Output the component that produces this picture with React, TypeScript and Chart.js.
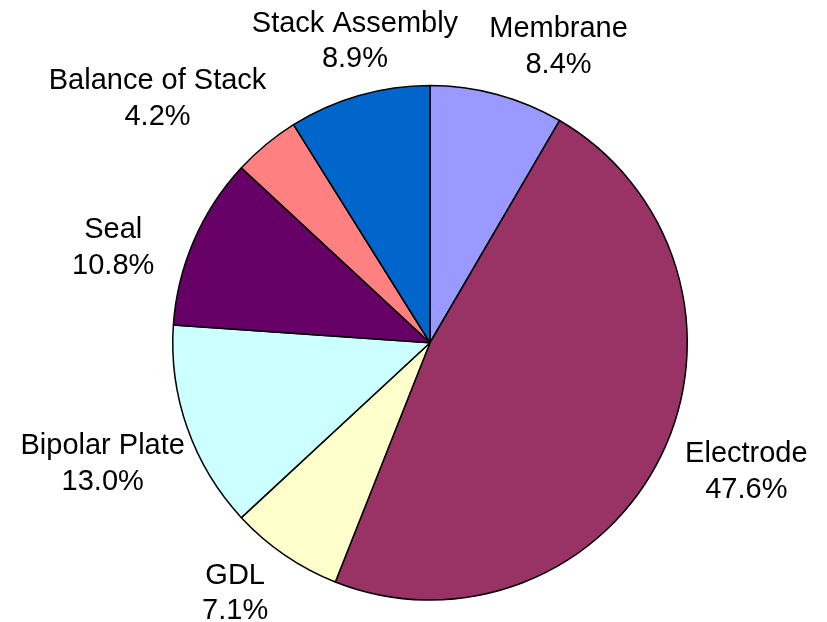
import React, { useEffect, useRef } from "react";
import { Chart, registerables } from "chart.js";

Chart.register(...registerables);

// Cost breakdown of the stack components, in percent
const categories = [
  "Membrane",
  "Electrode",
  "GDL",
  "Bipolar Plate",
  "Seal",
  "Balance of Stack",
  "Stack Assembly",
];
const shares = [8.4, 47.6, 7.1, 13.0, 10.8, 4.2, 8.9];
const sliceColors = [
  "#9999FF",
  "#993366",
  "#FFFFCC",
  "#CCFFFF",
  "#660066",
  "#FF8080",
  "#0066CC",
];

// Fine placement of each outside label relative to its default spot
const labelNudges: [number, number][] = [
  [51, -11],
  [49, -3],
  [-27, 3],
  [-47, 20],
  [-44, 21],
  [-83, -17],
  [7, -18],
];

const FONT = '29px "Liberation Sans", Arial, sans-serif';
const LINE_GAP = 35.5;

const outsideLabels = {
  id: "outsideLabels",
  afterDatasetsDraw(chart: Chart) {
    const { ctx } = chart;
    const meta = chart.getDatasetMeta(0);
    const values = chart.data.datasets[0].data as number[];
    const names = chart.data.labels as string[];
    ctx.save();
    ctx.font = FONT;
    ctx.fillStyle = "#000000";
    ctx.textAlign = "center";
    ctx.textBaseline = "alphabetic";
    meta.data.forEach((el: any, i: number) => {
      const { x, y, startAngle, endAngle, outerRadius } = el.getProps(
        ["x", "y", "startAngle", "endAngle", "outerRadius"],
        true
      );
      const mid = (startAngle + endAngle) / 2;
      const d = outerRadius + 40;
      const [nx, ny] = labelNudges[i] || [0, 0];
      const lx = x + d * Math.cos(mid) + nx;
      const ly = y + d * Math.sin(mid) + ny;
      ctx.fillText(names[i], lx, ly + 10.4 - LINE_GAP / 2);
      ctx.fillText(values[i].toFixed(1) + "%", lx, ly + 10.4 + LINE_GAP / 2);
    });
    ctx.restore();
  },
};

export default function App() {
  const canvasRef = useRef<HTMLCanvasElement | null>(null);

  useEffect(() => {
    const canvas = canvasRef.current;
    if (!canvas) return;
    const chart = new Chart(canvas, {
      type: "pie",
      data: {
        labels: categories,
        datasets: [
          {
            data: shares,
            backgroundColor: sliceColors,
            borderColor: "#000000",
            borderWidth: 1.5,
          },
        ],
      },
      options: {
        responsive: false,
        animation: false,
        layout: { padding: { left: 172, right: 139, top: 84, bottom: 20.5 } },
        plugins: {
          legend: { display: false },
          tooltip: { enabled: false },
          title: { display: false },
        },
      },
      plugins: [outsideLabels],
    });
    return () => chart.destroy();
  }, []);

  return (
    <div
      style={{
        position: "fixed",
        left: 0,
        top: 0,
        width: 827,
        height: 622,
        background: "#ffffff",
      }}
    >
      <canvas ref={canvasRef} width={827} height={622} />
    </div>
  );
}
